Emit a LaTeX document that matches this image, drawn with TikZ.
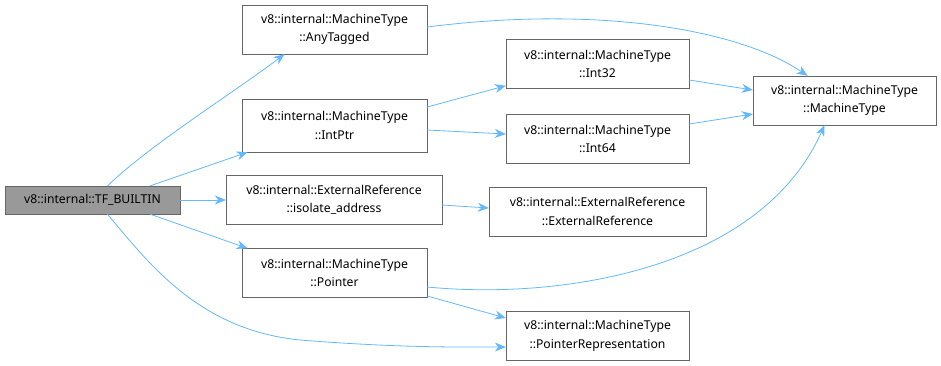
\documentclass[tikz,border=0pt]{standalone}
\usepackage{fontspec}
\setmainfont{Noto Sans}
\usetikzlibrary{arrows.meta}

\begin{document}
\begin{tikzpicture}[x=1pt,y=-1pt,
  fn/.style={draw=black!60,fill=white,align=center,font=\fontsize{12.2}{18.5}\selectfont,
    minimum width=185pt,minimum height=49pt,inner sep=1pt},
  root/.style={fn,fill=black!40,minimum height=28pt},
  call/.style={draw={rgb,255:red,99;green,184;blue,255},-{Stealth[length=11pt,width=9pt]},line width=0.8pt}]
  \useasboundingbox (0,0) rectangle (941,365);
  % caller on the left
  \node[root,minimum width=175pt] (tf) at (92.5,200) {v8::internal::TF\_BUILTIN};
  % first column
  \node[fn] (anytagged) at (334.5,29.5) {v8::internal::MachineType\\::AnyTagged};
  \node[fn,minimum height=53pt] (intptr) at (334.5,125.5) {v8::internal::MachineType\\::IntPtr};
  \node[fn,minimum width=216pt] (isoaddr) at (334,200) {v8::internal::ExternalReference\\::isolate\_address};
  \node[fn] (pointer) at (334.5,273) {v8::internal::MachineType\\::Pointer};
  % second column
  \node[fn,minimum width=183pt] (int32) at (597.5,64) {v8::internal::MachineType\\::Int32};
  \node[fn,minimum width=183pt] (int64) at (597.5,139) {v8::internal::MachineType\\::Int64};
  \node[fn,minimum width=217pt] (extref) at (597.5,211.5) {v8::internal::ExternalReference\\::ExternalReference};
  \node[fn,minimum width=183pt] (ptrrep) at (597.5,336) {v8::internal::MachineType\\::PointerRepresentation};
  % target on the right
  \node[fn,minimum width=183pt] (mtype) at (844.5,100.5) {v8::internal::MachineType\\::MachineType};

  % calls out of TF_BUILTIN
  \draw[call] ([xshift=15pt]tf.north) .. controls (150,145) and (230,95) .. ([xshift=-50pt]anytagged.south);
  \draw[call] ([xshift=-30pt]tf.north east) -- ([xshift=-87pt]intptr.south);
  \draw[call] (tf) -- (isoaddr);
  \draw[call] ([xshift=-30pt]tf.south east) -- ([xshift=-87pt]pointer.north);
  \draw[call] ([xshift=15pt]tf.south) .. controls (150,265) and (200,330) .. (300,340)
    .. controls (400,348) and (460,347) .. ([yshift=-11pt]ptrrep.west);
  % calls out of the first column
  \draw[call] ([yshift=2.5pt]anytagged.east) .. controls (600,5) and (740,30) .. ([xshift=-37pt]mtype.north);
  \draw[call] ([yshift=18.5pt]intptr.east) -- ([yshift=3pt]int32.south west);
  \draw[call] ([yshift=-4.5pt]intptr.east) -- ([yshift=5pt]int64.west);
  \draw[call] ([yshift=-5pt]isoaddr.east) -- ([yshift=3.5pt]extref.west);
  \draw[call] ([yshift=-14pt]pointer.east) .. controls (560,300) and (760,270) .. ([xshift=-20pt]mtype.south);
  \draw[call] ([yshift=-23pt]pointer.east) -- ([yshift=18pt]ptrrep.west);
  % calls into MachineType
  \draw[call] ([yshift=-16pt]int32.east) -- ([yshift=10.5pt]mtype.west);
  \draw[call] ([yshift=15pt]int64.east) -- ([yshift=-13.5pt]mtype.west);
\end{tikzpicture}
\end{document}
